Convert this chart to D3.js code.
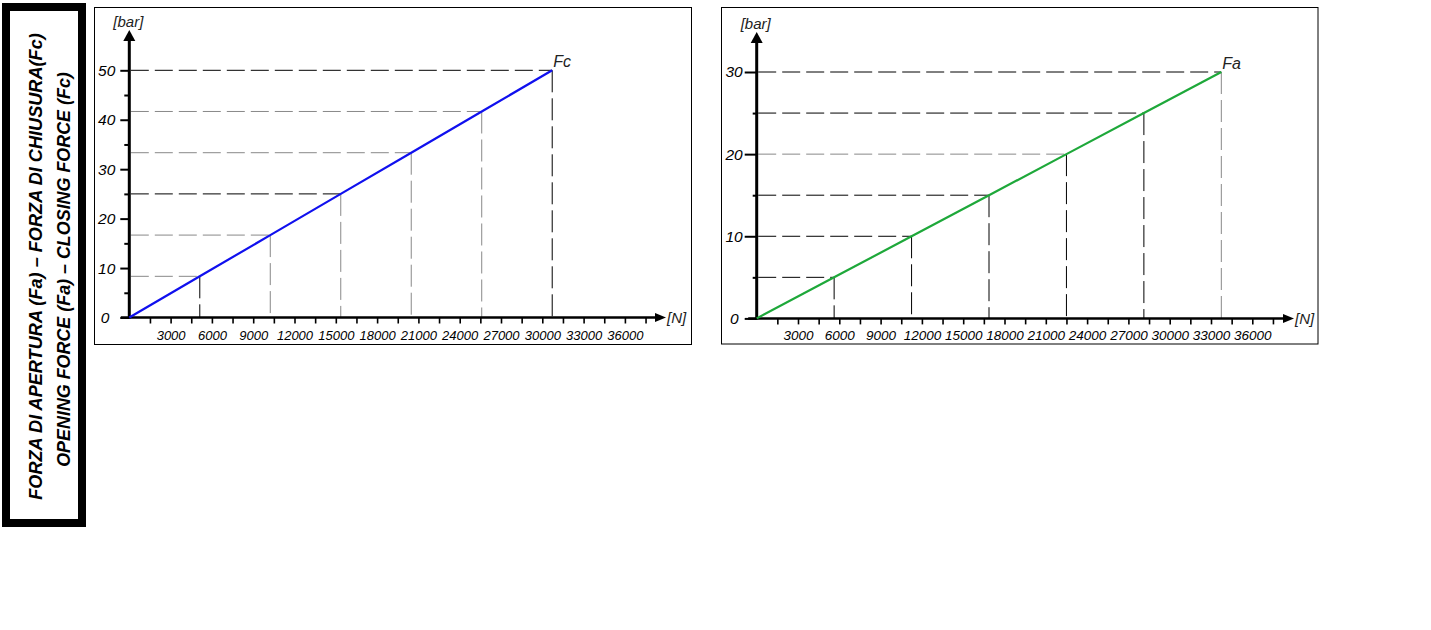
<!DOCTYPE html>
<html>
<head>
<meta charset="utf-8">
<script src="https://cdn.jsdelivr.net/npm/d3@7/dist/d3.min.js"></script>
<style>
  html, body { margin: 0; padding: 0; background: #fff; }
  svg { display: block; }
  text { font-family: "Liberation Sans", Arial, sans-serif; }
</style>
</head>
<body>
<svg id="chart" width="1431" height="630"></svg>
<script>
// ---------------- DATA ----------------
const sideTitleLines = [
  "FORZA DI APERTURA (Fa) \u2013 FORZA DI CHIUSURA(Fc)",
  "OPENING FORCE (Fa) \u2013 CLOSING FORCE (Fc)"
];

const xTickValues = [1500,3000,4500,6000,7500,9000,10500,12000,13500,15000,16500,18000,19500,21000,22500,24000,25500,27000,28500,30000,31500,33000,34500,36000,37500];
const xTickLabels = ["3000","6000","9000","12000","15000","18000","21000","24000","27000","30000","33000","36000"];

// Closing force (left)
const closingForceN   = [0, 5120, 10240, 15360, 20480, 25600, 30720];
const closingPressure = [0, 8.33, 16.67, 25, 33.33, 41.67, 50];
const closingYMajor   = [0, 10, 20, 30, 40, 50];
const closingYMinor   = [5, 15, 25, 35, 45];
const closingLabel    = "Fc";

// Opening force (right)
const openingForceN   = [0, 5625, 11250, 16875, 22500, 28125, 33750];
const openingPressure = [0, 5, 10, 15, 20, 25, 30];
const openingYMajor   = [0, 10, 20, 30];
const openingYMinor   = [5, 15, 25];
const openingLabel    = "Fa";

const yUnit = "[bar]";
const xUnit = "[N]";

// ---------------- STYLES ----------------
const closingHTone = ["#888","#888","#000","#888","#888","#000"];
const closingVTone = ["#000","#888","#888","#888","#888","#000"];
const openingHTone = ["#000","#000","#000","#888","#000","#000"];
const openingVTone = ["#000","#000","#000","#000","#000","#888"];

const svg = d3.select("#chart");
svg.append("rect").attr("width",1431).attr("height",630).attr("fill","#fff");

// ---------- side title box ----------
const box = svg.append("g");
box.append("rect").attr("x",6).attr("y",7).attr("width",76).attr("height",516)
  .attr("fill","#fff").attr("stroke","#000").attr("stroke-width",8);
const titleBaselines = [41.5, 69.5];
const titleTargets = [467, 395];
sideTitleLines.forEach((t,i)=>{
  const tx = box.append("text")
    .attr("transform",`translate(${titleBaselines[i]},${i===0?266.5:269.5}) rotate(-90)`)
    .attr("text-anchor","middle")
    .attr("font-weight","bold").attr("font-style","italic")
    .attr("font-size",16).attr("fill","#000").text(t);
  const len = tx.node().getComputedTextLength();
  tx.attr("font-size", 16*titleTargets[i]/len);
});

// ---------- panel ----------
function panel(cfg) {
  const g = svg.append("g");
  g.append("rect").attr("x",cfg.fx0).attr("y",cfg.fy0)
    .attr("width",cfg.fx1-cfg.fx0).attr("height",cfg.fy1-cfg.fy0)
    .attr("fill","#fff").attr("stroke","#000").attr("stroke-width",1);

  const x = d3.scaleLinear().domain([0,36000]).range([cfg.ox, cfg.ox + 12*41.3]);
  const y = d3.scaleLinear().domain([0,cfg.yMax]).range([cfg.oy, cfg.yTopPx]);
  const last = cfg.xs.length-1;

  const pts = cfg.xs.map((v,i)=>({x:v, y:cfg.ys[i]})).slice(1);
  g.selectAll(".gh").data(pts).join("line")
    .attr("x1",cfg.ox+1.5).attr("x2",d=>x(d.x))
    .attr("y1",d=>y(d.y)).attr("y2",d=>y(d.y))
    .attr("stroke",(d,i)=>cfg.hTone[i]).attr("stroke-width",1)
    .attr("stroke-dasharray","18,6");
  g.selectAll(".gv").data(pts).join("line")
    .attr("x1",d=>x(d.x)).attr("x2",d=>x(d.x))
    .attr("y1",d=>y(d.y)).attr("y2",cfg.oy)
    .attr("stroke",(d,i)=>cfg.vTone[i]).attr("stroke-width",1)
    .attr("stroke-dasharray","22,6");

  const labelSet = new Set(xTickLabels);
  const xAxis = d3.axisBottom(x).tickValues(xTickValues).tickSize(6).tickPadding(8)
    .tickFormat(d => labelSet.has(String(d)) ? String(d) : "");
  const xg = g.append("g").attr("transform",`translate(0,${cfg.oy})`).call(xAxis);
  xg.select(".domain").remove();
  xg.selectAll(".tick line").attr("stroke","#000").attr("stroke-width",1.6);
  xg.selectAll(".tick text").attr("font-size",cfg.xFont).attr("font-style","italic")
    .attr("fill","#000").attr("font-family","'Liberation Sans', Arial, sans-serif")
    .attr("y",null).attr("dy",null)
    .attr("transform","translate(0,22)");

  const yAxis = d3.axisLeft(y).tickValues(cfg.yMajor).tickSize(cfg.majorTick).tickPadding(cfg.yPad)
    .tickFormat(d3.format("d"));
  const yg = g.append("g").attr("transform",`translate(${cfg.ox},0)`).call(yAxis);
  yg.select(".domain").remove();
  yg.selectAll(".tick line").attr("stroke","#000").attr("stroke-width",2);
  yg.selectAll(".tick text").attr("font-size",15.5).attr("font-style","italic")
    .attr("fill","#000").attr("font-family","'Liberation Sans', Arial, sans-serif");
  yg.selectAll(".tick").filter(d=>d===0).select("text").attr("x",-cfg.zeroOff);
  const yAxisMinor = d3.axisLeft(y).tickValues(cfg.yMinor).tickSize(cfg.minorTick).tickFormat("");
  const ym = g.append("g").attr("transform",`translate(${cfg.ox},0)`).call(yAxisMinor);
  ym.select(".domain").remove();
  ym.selectAll(".tick line").attr("stroke","#000").attr("stroke-width",2);

  g.append("line").attr("x1",cfg.ox-8.5).attr("x2",cfg.xTip-8).attr("y1",cfg.oy).attr("y2",cfg.oy)
    .attr("stroke","#000").attr("stroke-width",2.5);
  g.append("path").attr("d",`M${cfg.xTip},${cfg.oy} L${cfg.xTip-11},${cfg.oy-4.5} L${cfg.xTip-11},${cfg.oy+4.5} Z`)
    .attr("fill","#000");
  g.append("line").attr("x1",cfg.ox).attr("x2",cfg.ox).attr("y1",cfg.oy+1).attr("y2",cfg.yTip+8)
    .attr("stroke","#000").attr("stroke-width",3);
  g.append("path").attr("d",`M${cfg.ox},${cfg.yTip} L${cfg.ox-6},${cfg.yTip+11} L${cfg.ox+6},${cfg.yTip+11} Z`)
    .attr("fill","#000");

  g.append("text").attr("x",cfg.ox-1).attr("y",cfg.yTip-3).attr("text-anchor","middle")
    .attr("font-size",15).attr("font-style","italic").attr("fill","#222").text(yUnit);
  g.append("text").attr("x",cfg.xTip+1).attr("y",cfg.oy+5.5).attr("text-anchor","start")
    .attr("font-size",15).attr("font-style","italic").attr("fill","#222").text(xUnit);

  const line = d3.line().x((d)=>x(d[0])).y(d=>y(d[1]));
  g.append("path").datum(cfg.xs.map((v,i)=>[v,cfg.ys[i]]))
    .attr("d",line).attr("fill","none").attr("stroke",cfg.color).attr("stroke-width",2.2);

  g.append("text").attr("x",x(cfg.xs[last])+1).attr("y",y(cfg.ys[last])-3)
    .attr("font-size",16).attr("font-style","italic").attr("fill","#222").text(cfg.label);
}

panel({fx0:94.5, fx1:691.5, fy0:7.5, fy1:344.5, ox:129.3, oy:317.5, yMax:50, yTopPx:70.3,
  xTip:666, yTip:30, xs:closingForceN, ys:closingPressure, hTone:closingHTone, vTone:closingVTone,
  color:"#1010ee", label:closingLabel, yMajor:closingYMajor, yMinor:closingYMinor,
  majorTick:9, minorTick:5, yPad:5, zeroOff:20, xFont:13});

panel({fx0:721.5, fx1:1318, fy0:7.5, fy1:344, ox:756.7, oy:318.4, yMax:30, yTopPx:72,
  xTip:1294, yTip:32, xs:openingForceN, ys:openingPressure, hTone:openingHTone, vTone:openingVTone,
  color:"#1ea83a", label:openingLabel, yMajor:openingYMajor, yMinor:openingYMinor,
  majorTick:12, minorTick:4, yPad:2, zeroOff:18, xFont:13.5});
</script>
</body>
</html>
